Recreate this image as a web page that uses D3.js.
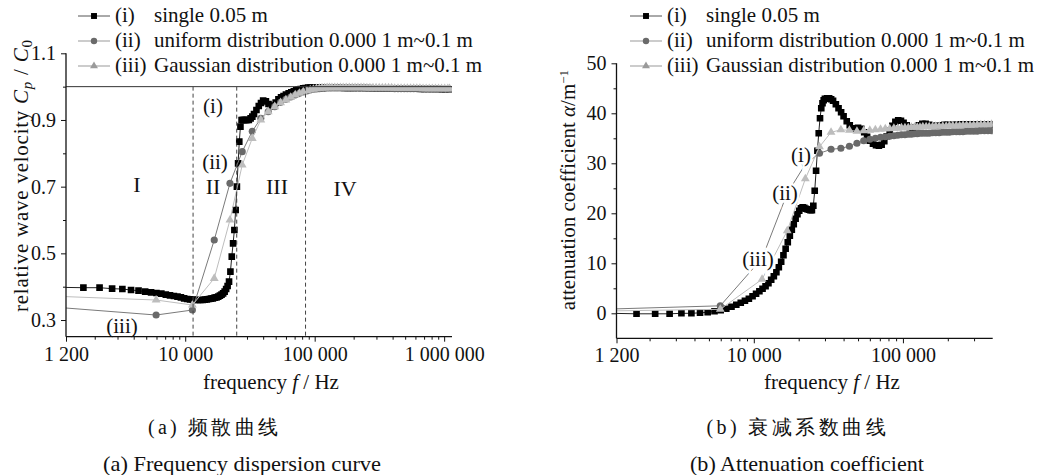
<!DOCTYPE html>
<html><head><meta charset="utf-8">
<script src="https://cdn.jsdelivr.net/npm/d3@7"></script>
<style>
body{margin:0;background:#fff}
svg{display:block}
text{font-family:"Liberation Serif","Times New Roman",serif;fill:#111}
</style>
</head><body>
<svg id="c" width="1058" height="475"></svg>
<script>
// ---------------- data ----------------
const freqSingle = [
  1090, 1635, 2180, 2725, 3270, 3815, 4360, 4905, 5450, 5995,
  6540, 7085, 7630, 8175, 8720, 9265, 9810, 10355, 10900, 11445,
  11990, 12535, 13080, 13625, 14170, 14715, 15260, 15805, 16350, 16895,
  17440, 17985, 18530, 19075, 19620, 20165, 20710, 21255, 21800, 22345,
  22890, 23435, 23980, 24525, 25070, 25615, 26160, 26705, 27250, 27795,
  28340, 28885, 29430, 29975,
  31000, 32000, 33000, 34000, 35500, 37000, 38500, 40000, 42000, 44000,
  46000, 48000, 50000, 52500, 55000, 57500, 60000, 63000, 66000, 69000,
  72000, 75000, 78000, 81500, 85000, 89000, 93000, 97000, 101000, 106000,
  111000, 116000, 122000, 128000, 135000, 142000, 150000, 160000, 170000, 180000,
  190000, 200000, 215000, 230000, 245000, 260000, 280000, 300000, 320000, 340000,
  360000, 385000, 410000, 440000, 470000, 500000, 540000, 580000, 620000, 660000,
  700000, 750000, 800000, 850000, 900000, 960000, 1020000, 1100000
];
const velSingle = [
  0.398, 0.397, 0.397, 0.394, 0.393, 0.390, 0.388, 0.385, 0.383, 0.381,
  0.379, 0.376, 0.374, 0.372, 0.370, 0.368, 0.365, 0.363, 0.362, 0.361,
  0.360, 0.360, 0.360, 0.360, 0.361, 0.362, 0.363, 0.364, 0.365, 0.367,
  0.368, 0.370, 0.373, 0.376, 0.380, 0.385, 0.393, 0.402, 0.415, 0.445,
  0.490, 0.530, 0.570, 0.630, 0.700, 0.770, 0.835, 0.880, 0.900, 0.900,
  0.900, 0.900, 0.900, 0.900,
  0.900, 0.905, 0.910, 0.918, 0.930, 0.942, 0.951, 0.958, 0.956, 0.948,
  0.940, 0.943, 0.952, 0.962, 0.968, 0.972, 0.976, 0.980, 0.983, 0.986,
  0.989, 0.991, 0.993, 0.995, 0.996, 0.997, 0.997, 0.997, 0.997, 0.997,
  0.997, 0.997, 0.997, 0.997, 0.997, 0.997, 0.997, 0.997, 0.996, 0.996,
  0.996, 0.996, 0.996, 0.996, 0.996, 0.996, 0.995, 0.995, 0.995, 0.995,
  0.995, 0.995, 0.995, 0.994, 0.994, 0.994, 0.994, 0.994, 0.994, 0.993,
  0.993, 0.993, 0.993, 0.993, 0.993, 0.992, 0.992, 0.992
];
const attSingle = [
  0.0, -0.1, -0.1, -0.1, 0.0, 0.0, 0.1, 0.2, 0.4, 0.6,
  0.9, 1.3, 1.7, 2.1, 2.5, 2.9, 3.4, 3.9, 4.4, 4.9,
  5.4, 6.0, 6.7, 7.4, 8.2, 9.2, 10.3, 11.6, 12.9, 14.2,
  15.5, 16.7, 17.8, 18.9, 19.8, 20.5, 21.0, 21.2, 21.1, 20.9,
  20.8, 20.7, 20.6, 20.6, 21.5, 24.5, 28.5, 32.5, 36.0, 39.0,
  41.0, 42.0, 42.6, 42.9,
  43.0, 43.0, 42.8, 42.5, 41.8, 41.0, 40.2, 39.4, 38.4, 37.6,
  37.0, 36.9, 37.1, 36.9, 36.2, 35.3, 34.5, 33.9, 33.6, 33.5,
  33.7, 34.4, 35.4, 36.5, 37.5, 38.3, 38.6, 38.5, 38.1, 37.6,
  37.2, 37.0, 37.2, 37.6, 37.9, 37.9, 37.7, 37.5, 37.5, 37.6,
  37.7, 37.7, 37.7, 37.7, 37.8, 37.8, 37.8, 37.8, 37.8, 37.8,
  37.8, 37.8, 37.8, 37.8, 37.8, 37.8, 37.8, 37.8, 37.8, 37.8,
  37.8, 37.8, 37.8, 37.8, 37.8, 37.8, 37.8, 37.8
];
const freqDist = [
  560, 5960, 11360, 16760, 22160, 27560, 32960, 38360, 43760, 49160,
  54560, 59960, 65360, 70760, 76160, 81560, 86960, 92360, 97760, 103160,
  108560, 113960, 119360, 124760, 130160, 136000, 143000, 150000, 158000, 166000,
  175000, 185000, 195000, 205000, 216000, 228000, 240000, 253000, 267000, 282000,
  298000, 315000, 333000, 352000, 372000, 393000, 415000, 440000, 465000, 492000,
  520000, 550000, 582000, 615000, 650000, 687000, 726000, 767000, 810000, 856000,
  905000, 956000, 1010000, 1067000, 1100000
];
const velUniform = [
  0.346, 0.315, 0.330, 0.540, 0.710, 0.805, 0.866, 0.905, 0.925, 0.940,
  0.953, 0.962, 0.969, 0.975, 0.980, 0.984, 0.987, 0.990, 0.992, 0.993,
  0.994, 0.995, 0.995, 0.996, 0.996, 0.996, 0.996, 0.996, 0.996, 0.996,
  0.996, 0.996, 0.996, 0.996, 0.996, 0.996, 0.996, 0.995, 0.995, 0.995,
  0.995, 0.995, 0.995, 0.995, 0.995, 0.995, 0.994, 0.994, 0.994, 0.994,
  0.994, 0.994, 0.994, 0.994, 0.994, 0.993, 0.993, 0.993, 0.993, 0.993,
  0.993, 0.993, 0.993, 0.993, 0.993
];
const velGauss = [
  0.375, 0.360, 0.345, 0.425, 0.600, 0.765, 0.845, 0.900, 0.925, 0.940,
  0.952, 0.960, 0.968, 0.975, 0.980, 0.984, 0.988, 0.990, 0.992, 0.994,
  0.995, 0.996, 0.996, 0.997, 0.997, 0.997, 0.997, 0.997, 0.997, 0.997,
  0.997, 0.997, 0.997, 0.997, 0.997, 0.997, 0.997, 0.996, 0.996, 0.996,
  0.996, 0.996, 0.996, 0.996, 0.996, 0.996, 0.995, 0.995, 0.995, 0.995,
  0.995, 0.995, 0.995, 0.995, 0.995, 0.994, 0.994, 0.994, 0.994, 0.994,
  0.994, 0.994, 0.994, 0.994, 0.994
];
const attUniform = [
  0.6, 1.5, 11.0, 24.0, 29.8, 32.0, 32.8, 33.0, 33.4, 34.0,
  34.5, 34.8, 35.0, 35.2, 35.3, 35.4, 35.5, 35.6, 35.7, 35.7,
  35.8, 35.8, 35.9, 35.9, 36.0, 36.0, 36.0, 36.0, 36.1, 36.1,
  36.1, 36.2, 36.2, 36.2, 36.3, 36.3, 36.3, 36.3, 36.4, 36.4,
  36.4, 36.4, 36.5, 36.5, 36.5, 36.5, 36.5, 36.5, 36.5, 36.5,
  36.5, 36.5, 36.5, 36.5, 36.5, 36.5, 36.5, 36.5, 36.5, 36.5,
  36.5, 36.5, 36.5, 36.5, 36.5
];
const attGauss = [
  0.35, 0.8, 6.8, 16.5, 26.9, 33.3, 36.2, 36.7, 36.6, 36.4,
  36.5, 36.6, 36.7, 36.8, 36.9, 36.9, 37.0, 37.0, 37.1, 37.1,
  37.1, 37.2, 37.2, 37.2, 37.2, 37.3, 37.3, 37.3, 37.3, 37.4,
  37.4, 37.4, 37.4, 37.5, 37.5, 37.5, 37.5, 37.6, 37.6, 37.6,
  37.6, 37.7, 37.7, 37.7, 37.7, 37.8, 37.8, 37.8, 37.8, 37.8,
  37.8, 37.8, 37.8, 37.8, 37.8, 37.8, 37.8, 37.8, 37.8, 37.8,
  37.8, 37.8, 37.8, 37.8, 37.8
];
const seriesNames = ["(i)", "(ii)", "(iii)"];
const seriesDesc = ["single 0.05 m", "uniform distribution 0.000 1 m~0.1 m", "Gaussian distribution 0.000 1 m~0.1 m"];
const xTicksA = [1200, 10000, 100000, 1000000];
const xTickLabelsA = ["1 200", "10 000", "100 000", "1 000 000"];
const xMinorA = [2000,3000,4000,5000,6000,7000,8000,9000,20000,30000,40000,50000,60000,70000,80000,90000,200000,300000,400000,500000,600000,700000,800000,900000];
const yTicksA = [0.3, 0.5, 0.7, 0.9, 1.1];
const yTickLabelsA = ["0.3", "0.5", "0.7", "0.9", "1.1"];
const yMinorA = [0.4, 0.6, 0.8, 1.0];
const xTicksB = [1200, 10000, 100000];
const xTickLabelsB = ["1 200", "10 000", "100 000"];
const xMinorB = [2000,3000,4000,5000,6000,7000,8000,9000,20000,30000,40000,50000,60000,70000,80000,90000,200000,300000];
const yTicksB = [0, 10, 20, 30, 40, 50];
const yTickLabelsB = ["0", "10", "20", "30", "40", "50"];
const yMinorB = [5, 15, 25, 35, 45];
const regionBounds = [11500, 25000, 85000];
const regionLabels = ["I", "II", "III", "IV"];
const refLevel = 1.0;

// ---------------- styles ----------------
const markColors = ["#000000", "#6a6a6a", "#bdbdbd"];
const lineColors = ["#222222", "#7a7a7a", "#bdbdbd"];
const symTypes = [d3.symbolSquare, d3.symbolCircle, d3.symbolTriangle];
const symSizes = [44, 40, 34];

const svg = d3.select("#c");

function drawAxes(g, x, y, xMaj, xLab, xMin, yMaj, yLab, yMin) {
  const [xa, xb] = x.range();
  const [yb, yt] = y.range();
  const bx = d3.axisBottom(x).tickValues(xMaj).tickFormat((d, i) => xLab[i]).tickSize(5).tickPadding(5);
  const gb = g.append("g").attr("transform", `translate(0,${yb})`).call(bx);
  const bm = d3.axisBottom(x).tickValues(xMin).tickFormat("").tickSize(3);
  const gbm = g.append("g").attr("transform", `translate(0,${yb})`).call(bm);
  const ly = d3.axisLeft(y).tickValues(yMaj).tickFormat((d, i) => yLab[i]).tickSize(5).tickPadding(5);
  const gl = g.append("g").attr("transform", `translate(${xa},0)`).call(ly);
  const lm = d3.axisLeft(y).tickValues(yMin).tickFormat("").tickSize(3);
  const glm = g.append("g").attr("transform", `translate(${xa},0)`).call(lm);
  [gb, gbm, gl, glm].forEach(s => {
    s.select(".domain").remove();
    s.selectAll("line").attr("stroke", "#111").attr("stroke-width", 1);
    s.selectAll("text").attr("font-family", "Liberation Serif, serif").attr("font-size", 20).attr("fill", "#111");
  });
  g.append("line").attr("x1", xa).attr("x2", xb).attr("y1", yb).attr("y2", yb).attr("stroke", "#111").attr("stroke-width", 1.3);
  g.append("line").attr("x1", xa).attr("x2", xa).attr("y1", yb).attr("y2", yt).attr("stroke", "#111").attr("stroke-width", 1.3);
}

function drawSeries(g, x, y, freqs, vals, idx, clipId) {
  const pts = freqs.map((f, i) => [f, vals[i]]);
  const line = d3.line().x(d => x(d[0])).y(d => y(d[1]));
  const gg = g.append("g").attr("clip-path", `url(#${clipId})`);
  gg.append("path").attr("d", line(pts)).attr("fill", "none")
    .attr("stroke", lineColors[idx]).attr("stroke-width", 1);
  const sym = d3.symbol().type(symTypes[idx]).size(symSizes[idx]);
  gg.selectAll("path.m").data(pts).join("path").attr("class", "m")
    .attr("d", sym).attr("transform", d => `translate(${x(d[0])},${y(d[1])})`)
    .attr("fill", markColors[idx]);
}

function drawLegend(g, x0) {
  const rows = [16, 41, 66];
  seriesNames.forEach((n, i) => {
    const yy = rows[i];
    g.append("line").attr("x1", x0).attr("x2", x0 + 32).attr("y1", yy).attr("y2", yy)
      .attr("stroke", i === 0 ? "#555" : "#999").attr("stroke-width", 1);
    g.append("path").attr("d", d3.symbol().type(symTypes[i]).size(symSizes[i] * 0.8)())
      .attr("transform", `translate(${x0 + 16},${yy})`).attr("fill", i === 2 ? "#9a9a9a" : markColors[i]);
    g.append("text").attr("x", x0 + 37).attr("y", yy + 6).attr("font-size", 21).text(n);
    g.append("text").attr("x", x0 + 76).attr("y", yy + 6).attr("font-size", 21).text(seriesDesc[i]);
  });
}

// ---------------- panel (a) ----------------
const xA = d3.scaleLog().domain([1200, 1150000]).range([66, 452]);
const yA = d3.scaleLinear().domain([0.25, 1.1]).range([336.7, 53.3]);
const gA = svg.append("g");
gA.append("clipPath").attr("id", "clipA").append("rect")
  .attr("x", 66).attr("y", 40).attr("width", 386).attr("height", 296.7);

drawSeries(gA, xA, yA, freqSingle, velSingle, 0, "clipA");
drawSeries(gA, xA, yA, freqDist, velUniform, 1, "clipA");
drawSeries(gA, xA, yA, freqDist, velGauss, 2, "clipA");

gA.append("line").attr("x1", xA.range()[0]).attr("x2", xA.range()[1])
  .attr("y1", yA(refLevel)).attr("y2", yA(refLevel)).attr("stroke", "#333").attr("stroke-width", 1);
regionBounds.forEach(b => {
  gA.append("line").attr("x1", xA(b)).attr("x2", xA(b)).attr("y1", yA(refLevel)).attr("y2", yA(0.25))
    .attr("stroke", "#444").attr("stroke-width", 1).attr("stroke-dasharray", "4,3");
});
const regionPos = [[137, 192], [213, 194], [277, 194], [345, 196]];
regionLabels.forEach((r, i) => {
  gA.append("text").attr("x", regionPos[i][0]).attr("y", regionPos[i][1]).attr("text-anchor", "middle")
    .attr("font-size", 22).text(r);
});
[["(i)", 213, 113], ["(ii)", 215, 169], ["(iii)", 122, 333]].forEach(a => {
  gA.append("text").attr("x", a[1]).attr("y", a[2]).attr("text-anchor", "middle").attr("font-size", 21).text(a[0]);
});
drawAxes(gA, xA, yA, xTicksA, xTickLabelsA, xMinorA, yTicksA, yTickLabelsA, yMinorA);
drawLegend(gA, 78);

const xtA = gA.append("text").attr("x", 271).attr("y", 389).attr("text-anchor", "middle").attr("font-size", 21);
xtA.append("tspan").text("frequency  ");
xtA.append("tspan").attr("font-style", "italic").text("f");
xtA.append("tspan").text(" / Hz");
const ytA = gA.append("text").attr("transform", "translate(28,176) rotate(-90)").attr("text-anchor", "middle")
  .attr("font-size", 21).attr("textLength", 272).attr("lengthAdjust", "spacing");
ytA.append("tspan").text("relative wave velocity ");
ytA.append("tspan").attr("font-style", "italic").text("C");
ytA.append("tspan").attr("font-style", "italic").attr("font-size", 15).attr("dy", 4).text("p");
ytA.append("tspan").attr("dy", -4).text(" / ");
ytA.append("tspan").attr("font-style", "italic").text("C");
ytA.append("tspan").attr("font-size", 15).attr("dy", 4).text("0");

// ---------------- panel (b) ----------------
const xB = d3.scaleLog().domain([1200, 400000]).range([616.5, 992.7]);
const yB = d3.scaleLinear().domain([-5, 50]).range([338.3, 63.3]);
const gB = svg.append("g");
gB.append("clipPath").attr("id", "clipB").append("rect")
  .attr("x", 616.5).attr("y", 50).attr("width", 376.2).attr("height", 288.3);

drawSeries(gB, xB, yB, freqSingle, attSingle, 0, "clipB");
drawSeries(gB, xB, yB, freqDist, attUniform, 1, "clipB");
drawSeries(gB, xB, yB, freqDist, attGauss, 2, "clipB");

[["(i)", 801, 162], ["(ii)", 785, 200], ["(iii)", 758, 266]].forEach(a => {
  gB.append("text").attr("x", a[1]).attr("y", a[2]).attr("text-anchor", "middle").attr("font-size", 21)
    .attr("stroke", "#fff").attr("stroke-width", 5).attr("paint-order", "stroke").text(a[0]);
});
drawAxes(gB, xB, yB, xTicksB, xTickLabelsB, xMinorB, yTicksB, yTickLabelsB, yMinorB);
drawLegend(gB, 630);

const xtB = gB.append("text").attr("x", 832).attr("y", 389).attr("text-anchor", "middle").attr("font-size", 21);
xtB.append("tspan").text("frequency  ");
xtB.append("tspan").attr("font-style", "italic").text("f");
xtB.append("tspan").text(" / Hz");
const ytB = gB.append("text").attr("transform", "translate(575,190) rotate(-90)").attr("text-anchor", "middle").attr("font-size", 21);
ytB.append("tspan").text("attenuation coefficient ");
ytB.append("tspan").attr("font-style", "italic").text("α");
ytB.append("tspan").text("/m");
ytB.append("tspan").attr("font-size", 13).attr("dy", -7).text("−1");

// ---------------- captions ----------------
const caps = [
  ["(a) 频散曲线", 213, 434, 130, "Noto Sans CJK SC", 20, "spacing"],
  ["(a) Frequency dispersion curve", 242, 471, 278, "Liberation Serif", 21, "spacingAndGlyphs"],
  ["(b) 衰减系数曲线", 796, 434, 179, "Noto Sans CJK SC", 20, "spacing"],
  ["(b) Attenuation coefficient", 807, 471, 234, "Liberation Serif", 21, "spacingAndGlyphs"]
];
caps.forEach(c => {
  svg.append("text").attr("x", c[1]).attr("y", c[2]).attr("text-anchor", "middle")
    .attr("font-family", c[4]).attr("font-size", c[5]).attr("font-weight", 300)
    .attr("textLength", c[3]).attr("lengthAdjust", c[6]).text(c[0]);
});
</script>
</body></html>
